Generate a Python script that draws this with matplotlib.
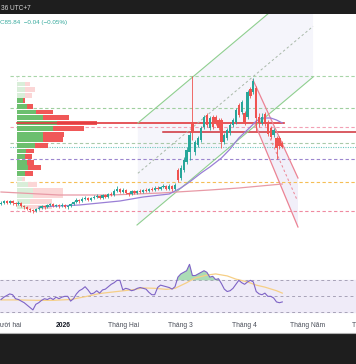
import matplotlib
matplotlib.use("Agg")
import matplotlib.pyplot as plt
import matplotlib.transforms as mtransforms
from matplotlib.patches import Rectangle, Polygon
from matplotlib.lines import Line2D
import numpy as np

plt.rcParams['font.family'] = ['Liberation Sans', 'DejaVu Sans']

# ---------------- data ----------------
opens = [57.2, 57.7, 58.7, 57.7, 58.7, 57.7, 57.2, 57.7, 56.2, 55.7,
         54.7, 54.2, 53.7, 54.7, 55.2, 56.2, 55.7, 56.7, 57.2, 56.2,
         56.7, 56.2, 56.7, 55.7, 56.2, 57.2, 58.2, 59.2, 58.7, 59.7,
         60.2, 59.2, 60.2, 60.7, 61.2, 60.2, 61.7, 60.7, 62.2, 61.7,
         63.7, 64.7, 63.2, 64.2, 62.7, 62.2, 63.7, 62.7, 63.7, 63.2,
         64.2, 63.7, 64.7, 64.2, 65.2, 64.7, 65.7, 66.2, 64.7, 66.2,
         64.7, 74.2, 70.2, 74.2, 78.2, 83.2, 98.2, 83.2, 86.7, 89.2,
         95.7, 101.7, 95.2, 100.7, 100.7, 99.2, 99.2, 88.2, 90.2, 92.7,
         96.7, 98.2, 106.7, 103.2, 102.7, 100.7, 114.7, 113.2, 115.2, 100.7,
         97.7, 102.2, 98.2, 95.2, 91.7, 90.2, 90.2, 87.7]
closes = [57.7, 58.7, 57.7, 58.7, 57.7, 57.2, 57.7, 56.2, 55.7, 54.7,
          54.2, 53.7, 54.7, 55.2, 56.2, 55.7, 56.7, 57.2, 56.2, 56.7,
          56.2, 56.7, 55.7, 56.2, 57.2, 58.2, 59.2, 58.7, 59.7, 60.2,
          59.2, 60.2, 60.7, 61.2, 60.2, 61.7, 60.7, 62.2, 61.7, 63.7,
          64.7, 63.2, 64.2, 62.7, 62.2, 63.7, 62.7, 63.7, 63.2, 64.2,
          63.7, 64.7, 64.2, 65.2, 64.7, 65.7, 66.2, 64.7, 66.2, 64.7,
          66.7, 69.2, 75.2, 79.2, 84.2, 91.7, 92.7, 88.2, 90.2, 95.2,
          100.7, 96.7, 100.2, 95.7, 97.7, 95.2, 88.2, 91.7, 94.2, 96.7,
          99.2, 104.2, 101.7, 108.2, 97.7, 113.2, 111.2, 118.7, 100.2, 97.7,
          100.7, 97.2, 92.2, 90.7, 94.2, 85.2, 86.2, 85.84]
highs = [58.7, 59.2, 59.2, 59.2, 59.2, 58.2, 58.7, 58.2, 56.7, 56.2,
         55.2, 54.7, 55.2, 56.2, 56.7, 56.7, 57.2, 57.7, 57.7, 57.2,
         57.2, 57.7, 57.2, 56.7, 57.7, 58.7, 60.2, 59.7, 60.7, 61.2,
         60.7, 60.7, 61.7, 62.2, 61.7, 62.2, 62.2, 62.7, 63.2, 64.7,
         66.2, 65.2, 65.2, 64.7, 63.2, 64.2, 64.2, 64.2, 64.7, 64.7,
         65.2, 65.2, 65.7, 66.2, 66.2, 66.2, 67.2, 66.7, 67.2, 66.7,
         67.7, 75.2, 76.7, 80.7, 85.7, 93.2, 121.2, 89.2, 91.2, 96.2,
         101.7, 102.7, 101.2, 101.7, 101.7, 100.2, 100.2, 92.7, 95.2, 97.7,
         100.2, 105.2, 107.7, 109.2, 103.7, 114.2, 115.7, 120.2, 116.2, 102.7,
         102.7, 103.2, 99.2, 96.2, 95.2, 91.2, 91.2, 88.7]
lows = [56.7, 57.2, 57.2, 57.2, 56.7, 56.2, 56.7, 55.7, 54.7, 54.2,
        53.2, 52.7, 53.2, 54.2, 54.7, 54.7, 55.2, 56.2, 55.7, 55.7,
        55.2, 55.7, 55.2, 54.7, 55.7, 56.7, 57.7, 57.7, 58.2, 59.2,
        58.7, 58.7, 59.7, 60.2, 59.7, 59.7, 60.2, 60.2, 61.2, 61.2,
        63.2, 62.7, 62.7, 62.2, 61.2, 61.7, 62.2, 62.2, 62.7, 62.7,
        63.2, 63.2, 63.7, 63.7, 64.2, 64.2, 65.2, 64.2, 64.2, 63.7,
        64.2, 68.2, 69.2, 73.2, 77.2, 79.2, 89.2, 81.7, 85.7, 88.2,
        94.7, 95.7, 94.2, 94.7, 96.7, 94.2, 85.2, 87.2, 89.2, 91.7,
        95.7, 97.2, 100.7, 102.2, 96.7, 99.7, 110.2, 112.2, 93.2, 95.7,
        96.7, 96.2, 91.2, 89.7, 90.7, 79.7, 84.7, 85.2]

rsi = [46, 49, 51, 53, 52, 47, 46, 44, 42, 39,
       36, 33, 40, 42, 45, 47, 46, 48, 46, 49,
       47, 49, 50, 50, 44, 47, 53, 57, 59, 62,
       58, 53, 54, 57, 54, 58, 59, 62, 65, 67,
       70, 70, 58, 60, 59, 57, 58, 60, 61, 60,
       59, 55, 52, 52, 61, 64, 63, 62, 61, 59,
       62, 74, 78, 80, 82, 90, 76, 76, 78, 80,
       82, 80, 74, 75, 71, 72, 66, 59, 56, 57,
       60, 65, 70, 67, 65, 68, 70, 68, 56, 53,
       52, 54, 50, 50, 48, 43, 42, 43]
rsi_ma_idx = [0, 6, 12, 18, 24, 29, 34, 40, 46, 49, 53, 57, 60, 64, 67, 71, 74, 78, 81, 85, 88, 91, 95, 97]
rsi_ma = [45.5, 45.5, 45, 45, 46, 49.5, 53.5, 56, 58.5, 60.5, 60, 58.7, 60, 67, 73, 76.5, 78, 75.5, 71.5, 68, 64, 61.5, 57, 54]

ma_fast_idx = [13, 20, 27, 34, 41, 49, 55, 58, 62, 65, 69, 72, 76, 79, 82, 86, 88, 90, 93, 95, 97]
ma_fast = [55.7, 56.2, 56.7, 57.7, 58.7, 60.7, 61.7, 62.2, 65.2, 68.2, 72.7, 75.7, 80.2, 84.7, 90.2, 95.7, 98.7, 100.2, 100.2, 99.2, 97.7]
ma_slow_idx = [0, 20, 38, 55, 72, 82, 97]
ma_slow = [63.2, 61.7, 61.7, 62.7, 64.2, 65.2, 67.2]

# volume profile (price bins, up/down volume)
vp_price = [117.2, 114.4, 111.6, 108.8, 106.0, 103.2, 100.5, 97.7, 94.9, 92.1, 89.3, 86.5,
            83.7, 80.9, 78.1, 75.3, 72.5, 69.7, 66.9, 64.1, 61.3, 58.5, 55.7]
vp_up = [8, 8, 8, 6, 10, 19, 26, 40, 36, 26, 26, 18, 9, 8, 10, 11, 8, 5, 11, 16, 16, 13, 10]
vp_down = [5, 10, 7, 2, 6, 17, 26, 40, 31, 21, 20, 13, 8, 7, 7, 13, 8, 3, 9, 30, 30, 22, 25]
vp_in_value_area = [0, 0, 0, 1, 1, 1, 1, 1, 1, 1, 1, 1, 1, 1, 1, 1, 1, 0, 0, 0, 0, 0, 0]
poc_price = 97.55

# horizontal levels
levels = [121.2, 105.05, 95.55, 87.55, 79.7, 68.05, 53.7]
level_colors = ['#a8d5a8', '#9fcf9f', '#f2a0b4', '#a9c9a9', '#9c86cf', '#f5be55', '#ef8aa0']
last_price = 85.84
resist_price = 93.2

# channels (bar index, price anchors)
green_upper = ([47.2, 107.6], [97.7, 171.2])
green_mid = ([47.2, 107.6], [72.55, 146.05])
green_lower = ([46.9, 107.6], [46.7, 120.7])
red_upper = ([86.9, 102.4], [119.2, 70.2])
red_lower = ([87.6, 102.4], [97.2, 45.7])
red_mid = ([92.8, 102.1], [89.95, 59.2])

tick_pos = [21.4, 42.1, 61.7, 84.1, 105.7]
tick_labels = ['2026', 'Tháng Hai', 'Tháng 3', 'Tháng 4', 'Tháng Năm']
edge_label_left = 'ười hai'
edge_label_right = 'T'

# ---------------- layout ----------------
W, H = 356, 364
fig = plt.figure(figsize=(W / 100, H / 100), dpi=100)
fig.patch.set_facecolor('white')

XL = (-0.345, 122.41)
ax = fig.add_axes([0, 1 - 250 / H, 1, 236 / H])
ax2 = fig.add_axes([0, 1 - 332 / H, 1, 82 / H])
for a in (ax, ax2):
    a.set_xlim(*XL)
    a.axis('off')
ax.set_ylim(34.2, 152.2)
ax2.set_ylim(5.4, 107.9)

x = np.arange(len(closes))
o = np.array(opens); c = np.array(closes); hi = np.array(highs); lo = np.array(lows)

# channel shading
gu = np.polyfit(green_upper[0], green_upper[1], 1)
gl = np.polyfit(green_lower[0], green_lower[1], 1)
xs = np.array([47.2, 107.6])
ax.add_patch(Polygon([[xs[0], np.polyval(gl, xs[0])], [xs[1], np.polyval(gl, xs[1])],
                      [xs[1], np.polyval(gu, xs[1])], [xs[0], np.polyval(gu, xs[0])]],
                     closed=True, facecolor='#f5f5fb', edgecolor='none', zorder=0.5))
ax.add_patch(Polygon([[red_upper[0][0], red_upper[1][0]], [red_upper[0][1], red_upper[1][1]],
                      [red_lower[0][1], red_lower[1][1]], [red_lower[0][0], red_lower[1][0]]],
                     closed=True, facecolor='#f1eff9', edgecolor='none', zorder=0.6))

# horizontal levels
for lv, col in zip(levels, level_colors):
    ax.plot([3.1, XL[1]], [lv, lv], color=col, lw=0.8, dashes=(3, 2.2), zorder=1)
ax.plot([3.1, XL[1]], [last_price, last_price], color='#6cc6bd', lw=0.8, dashes=(1, 1.2), zorder=1)
ax.plot([5.6, 5.6], [53.7, 121.2], color='#dddddd', lw=0.5, dashes=(2, 2), zorder=1)

# volume profile
btr = mtransforms.blended_transform_factory(ax.transAxes, ax.transData)
left0 = 17.3 / W
for p, u, d, va in zip(vp_price, vp_up, vp_down, vp_in_value_area):
    gcol = '#6cbf6e' if va else '#d9eed9'
    rcol = '#f05858' if va else '#fbd6d6'
    ax.add_patch(Rectangle((left0, p - 1.2), u / W, 2.4, transform=btr, facecolor=gcol, edgecolor='none', zorder=2))
    ax.add_patch(Rectangle((left0 + u / W, p - 1.2), d / W, 2.4, transform=btr, facecolor=rcol, edgecolor='none', zorder=2))

# POC and resistance lines
ax.plot([5.6, 97.6], [poc_price, poc_price], color='#e0393e', lw=1.2, zorder=3)
ax.plot([55.9, XL[1]], [resist_price, resist_price], color='#cf2f38', lw=1.1, zorder=3)

# channel lines
ax.plot(*green_upper, color='#8fcf8f', lw=0.8, zorder=3)
ax.plot(*green_lower, color='#8fcf8f', lw=0.8, zorder=3)
ax.plot(*green_mid, color='#a9b9a9', lw=0.7, dashes=(2.5, 2.5), zorder=3)
ax.plot(*red_upper, color='#ec8394', lw=0.9, zorder=3)
ax.plot(*red_lower, color='#ec8394', lw=0.9, zorder=3)
ax.plot(*red_mid, color='#ec8394', lw=0.7, dashes=(2.5, 2.5), zorder=3)

# moving averages
ax.plot(ma_slow_idx, ma_slow, color='#e89aa6', lw=0.9, zorder=3.5)
ax.plot(ma_fast_idx, ma_fast, color='#9a7fd6', lw=0.9, zorder=3.5)

# candles
up = c >= o
colors = np.where(up, '#26a69a', '#ef5350')
ax.vlines(x, lo, hi, colors=colors, lw=0.6, zorder=4)
body_b = np.minimum(o, c)
body_h = np.maximum(np.abs(c - o), 0.5)
ax.bar(x, body_h, bottom=body_b, width=0.8, color=colors, edgecolor='none', zorder=5)

# RSI panel
ax2.axhspan(30, 70, color='#efebf8', zorder=0)
for lv in (70, 50, 30):
    ax2.plot(XL, [lv, lv], color='#a7a2b8', lw=0.7, dashes=(3, 3), zorder=1)
r = np.array(rsi, dtype=float)
ax2.fill_between(x, r, 70, where=r >= 70, interpolate=True, color='#8fd19e', alpha=0.75, lw=0, zorder=2)
ax2.plot(rsi_ma_idx, rsi_ma, color='#f6cf86', lw=0.9, zorder=3)
ax2.plot(x, r, color='#7e63c6', lw=0.8, zorder=4)

# x labels
ly = 1 - 325.7 / H
ttr = mtransforms.blended_transform_factory(ax2.transData, fig.transFigure)
for tp, tl in zip(tick_pos, tick_labels):
    ax2.text(tp, ly, tl, transform=ttr, ha='center', va='center', fontsize=4.9,
             color='#131722' if tl == '2026' else '#4a4e59',
             fontweight='bold' if tl == '2026' else 'normal', clip_on=False)
fig.text(0.5 / W, ly, edge_label_left, ha='left', va='center', fontsize=4.9, color='#4a4e59')
fig.text(1 - 0.5 / W, ly, edge_label_right, ha='right', va='center', fontsize=4.9, color='#4a4e59')

# header / frame
fig.add_artist(Rectangle((0, 1 - 14 / H), 1, 14 / H, transform=fig.transFigure,
                         facecolor='#1e1e1e', edgecolor='none', zorder=10))
fig.add_artist(Rectangle((0, 0), 1, 31 / H, transform=fig.transFigure,
                         facecolor='#1e1e1e', edgecolor='none', zorder=10))
fig.add_artist(Line2D([0, 1], [1 - 332.5 / H] * 2, transform=fig.transFigure, color='#b0b0b0', lw=0.8, zorder=10))
fig.text(0.002, 1 - 8 / H, '36 UTC+7', color='#d8d8d8', fontsize=4.7, va='center', ha='left', zorder=11)
fig.text(0.0, 1 - 22.7 / H, 'C85.84  \u22120.04 (\u22120.05%)', color='#35a99c', fontsize=4.5,
         va='center', ha='left', zorder=11)

fig.savefig('out.png', dpi=100, facecolor='white')
